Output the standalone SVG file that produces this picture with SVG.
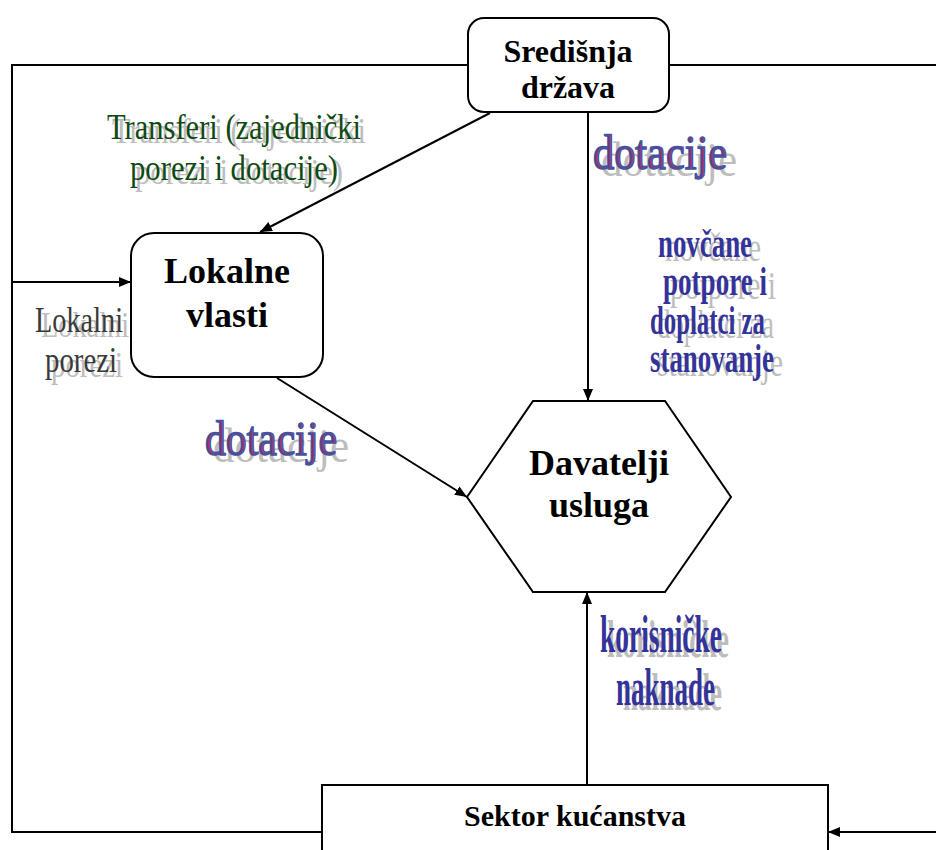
<svg xmlns="http://www.w3.org/2000/svg" width="936" height="850" viewBox="0 0 936 850">
<defs>
<marker id="arr" viewBox="0 0 12 10" refX="12" refY="5" markerWidth="12" markerHeight="10" markerUnits="userSpaceOnUse" orient="auto">
<path d="M0,0 L12,5 L0,10 Z" fill="#000"/>
</marker>
</defs>
<style>
.node{fill:#fff;stroke:#000;stroke-width:2}
.nt{font-family:"Liberation Serif",serif;font-weight:bold;fill:#000;text-anchor:middle}
.conn line,.conn polyline{stroke:#000;stroke-width:2;fill:none}
.lbl{font-family:"Liberation Serif",serif}
.sh{fill:#bdbdbd}
.green{fill:#0f4a12;font-size:36px}
.gray{fill:#3a3a3a;font-size:36px}
.blue{fill:#333399;font-weight:bold}
.dot{fill:#9b356a;stroke:#4054a4;stroke-width:1.6;font-size:48px}
</style>
<rect width="936" height="850" fill="#fff"/>
<g class="conn" id="connectors">
<polyline points="467,65 12,65 12,832 322,832"/>
<line x1="669" y1="65" x2="936" y2="65"/>
<line x1="12" y1="282" x2="131" y2="282" marker-end="url(#arr)"/>
<line x1="936" y1="832" x2="828" y2="832" marker-end="url(#arr)"/>
<line x1="490" y1="113" x2="260" y2="232" marker-end="url(#arr)"/>
<line x1="588" y1="112" x2="588" y2="401" marker-end="url(#arr)"/>
<line x1="277" y1="378" x2="467" y2="497" marker-end="url(#arr)"/>
<line x1="587" y1="785" x2="587" y2="592" marker-end="url(#arr)"/>
</g>
<g id="sredisnja">
<rect class="node" x="468" y="18" width="201" height="94" rx="16"/>
<text class="nt" x="568" y="62" font-size="32">Središnja</text>
<text class="nt" x="568" y="98" font-size="32">država</text>
</g>
<g id="lokalne">
<rect class="node" x="131" y="233" width="192" height="144" rx="23"/>
<text class="nt" x="227" y="283" font-size="36">Lokalne</text>
<text class="nt" x="227" y="327" font-size="36">vlasti</text>
</g>
<g id="davatelji">
<polygon class="node" points="467,497 533,401 665,401 731,497 665,592 533,592"/>
<text class="nt" x="599" y="475" font-size="36">Davatelji</text>
<text class="nt" x="599" y="517" font-size="36">usluga</text>
</g>
<g id="sektor">
<rect class="node" x="322" y="785" width="506" height="80"/>
<text class="nt" x="575" y="826" font-size="30">Sektor kućanstva</text>
</g>
<g id="labels">
<g class="lbl" font-size="36">
<text class="sh" x="112" y="143" textLength="254" lengthAdjust="spacingAndGlyphs" font-size="36">Transferi (zajednički</text>
<text class="sh" x="135" y="184" textLength="208" lengthAdjust="spacingAndGlyphs" font-size="36">porezi i dotacije)</text>
<text class="green" x="107" y="139" textLength="254" lengthAdjust="spacingAndGlyphs">Transferi (zajednički</text>
<text class="green" x="130" y="180" textLength="208" lengthAdjust="spacingAndGlyphs">porezi i dotacije)</text>
</g>
<g class="lbl">
<text class="sh" x="41" y="337" textLength="88" lengthAdjust="spacingAndGlyphs" font-size="36">Lokalni</text>
<text class="sh" x="51" y="377" textLength="72" lengthAdjust="spacingAndGlyphs" font-size="36">porezi</text>
<text class="gray" x="35" y="332" textLength="88" lengthAdjust="spacingAndGlyphs">Lokalni</text>
<text class="gray" x="45" y="372" textLength="72" lengthAdjust="spacingAndGlyphs">porezi</text>
</g>
<g class="lbl">
<text class="sh" x="601" y="176" textLength="136" lengthAdjust="spacingAndGlyphs" font-size="48">dotacije</text>
<text class="dot" x="593" y="169" textLength="134" lengthAdjust="spacingAndGlyphs">dotacije</text>
<text class="sh" x="213" y="462" textLength="136" lengthAdjust="spacingAndGlyphs" font-size="48">dotacije</text>
<text class="dot" x="205" y="455" textLength="132" lengthAdjust="spacingAndGlyphs">dotacije</text>
</g>
<g class="lbl">
<text class="sh" x="665" y="261" textLength="96" lengthAdjust="spacingAndGlyphs" font-size="40">novčane</text>
<text class="sh" x="670" y="299" textLength="106" lengthAdjust="spacingAndGlyphs" font-size="40">potpore i</text>
<text class="sh" x="657" y="338" textLength="117" lengthAdjust="spacingAndGlyphs" font-size="40">doplatci za</text>
<text class="sh" x="657" y="376" textLength="126" lengthAdjust="spacingAndGlyphs" font-size="40">stanovanje</text>
<text class="blue" x="658" y="257" textLength="94" lengthAdjust="spacingAndGlyphs" font-size="40">novčane</text>
<text class="blue" x="663" y="295" textLength="104" lengthAdjust="spacingAndGlyphs" font-size="40">potpore i</text>
<text class="blue" x="650" y="334" textLength="115" lengthAdjust="spacingAndGlyphs" font-size="40">doplatci za</text>
<text class="blue" x="650" y="372" textLength="124" lengthAdjust="spacingAndGlyphs" font-size="40">stanovanje</text>
</g>
<g class="lbl">
<text class="sh" x="607" y="657" textLength="122" lengthAdjust="spacingAndGlyphs" font-size="52" font-weight="bold">korisničke</text>
<text class="sh" x="623" y="710" textLength="99" lengthAdjust="spacingAndGlyphs" font-size="52" font-weight="bold">naknade</text>
<text class="blue" x="600" y="652" textLength="122" lengthAdjust="spacingAndGlyphs" font-size="52">korisničke</text>
<text class="blue" x="616" y="705" textLength="99" lengthAdjust="spacingAndGlyphs" font-size="52">naknade</text>
</g>
</g>
</svg>
